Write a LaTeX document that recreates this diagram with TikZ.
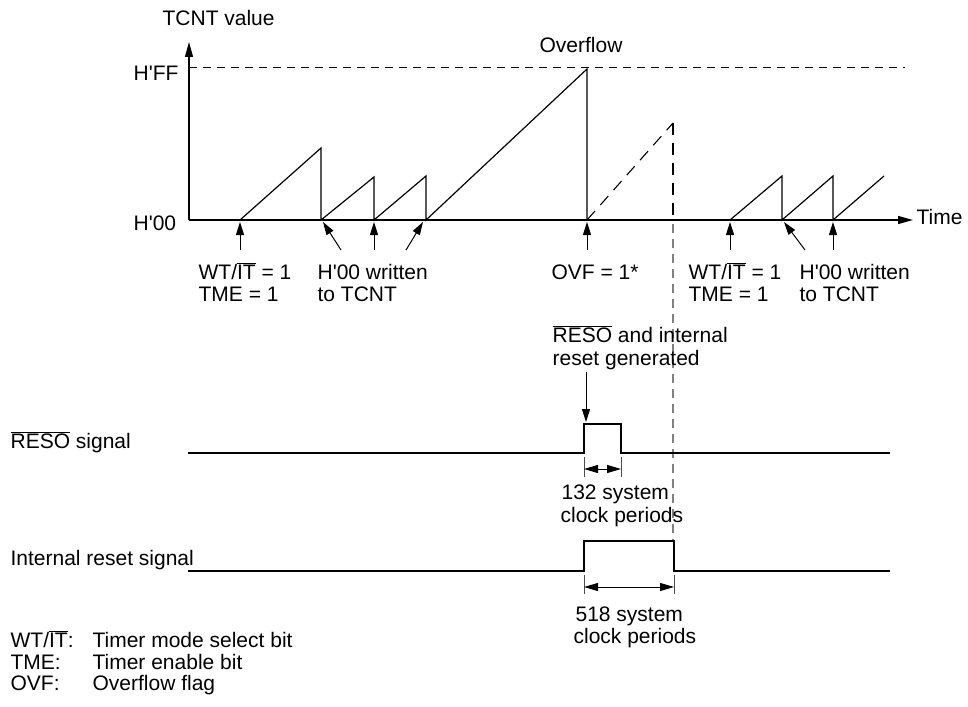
\documentclass[tikz,border=0pt]{standalone}
\usepackage{fontspec}
\setmainfont{Liberation Sans}
\usetikzlibrary{arrows.meta}
\newcommand{\ovl}[1]{\ensuremath{\overline{\mbox{#1}}}}
\newcommand{\ap}{\textquotesingle}
\begin{document}
\begin{tikzpicture}[x=1pt,y=-1pt,
  font=\fontsize{21}{24}\selectfont,
  line width=1.2pt,
  txt/.style={inner sep=0pt,anchor=base west},
  evarrow/.style={line width=1pt,-{Triangle[length=13pt,width=8pt]}},
  axarrow/.style={-{Triangle[length=15pt,width=8pt]}},
  dimarrow/.style={line width=1pt,{Triangle[length=14pt,width=8pt]}-{Triangle[length=14pt,width=8pt]}},
  hdash/.style={dash pattern=on 8pt off 6pt,line width=1pt},
  ddash/.style={dash pattern=on 12pt off 8pt,line width=1.1pt},
  gdash/.style={dash pattern=on 9pt off 6pt,line width=1.2pt,gray}]
\useasboundingbox (0,0) rectangle (968,706);
% axes
\coordinate (O) at (189,220);
\coordinate (ytop) at (189,42);
\coordinate (tend) at (913,220);
\draw[axarrow] (O) -- (ytop);
\draw[axarrow] (O) -- (tend);
\draw[hdash] (189,68) -- (905,68);
\node[txt] (tcnt) at (162,26) {TCNT value};
\node[txt] (hff) at (133,81) {H\ap FF};
\node[txt] (h00) at (133,230) {H\ap 00};
\node[txt] (time) at (916,224) {Time};
\node[txt] (ovfl) at (539,53) {Overflow};
% sawtooth
\draw (240,220) -- (321,148) -- (321,220) -- (374,177) -- (374,220) -- (426,176) -- (426,220) -- (587,69) -- (587,220);
\draw[ddash] (587,220) -- (673,123);
\draw[ddash] (673,123) -- (673,220);
\draw[gdash] (673,224) -- (673,541);
\draw (730,220) -- (782,176) -- (782,220) -- (833,176) -- (833,220) -- (884,176);
% event arrows
\coordinate (e1) at (240,222);
\coordinate (e2) at (323,222);
\coordinate (e3) at (374,222);
\coordinate (e4) at (423,222);
\coordinate (e5) at (587,222);
\coordinate (e6) at (730,222);
\coordinate (e7) at (784,222);
\coordinate (e8) at (833,222);
\draw[evarrow] (240,250) -- (e1);
\draw[evarrow] (341,250) -- (e2);
\draw[evarrow] (374,250) -- (e3);
\draw[evarrow] (406,250) -- (e4);
\draw[evarrow] (587,250) -- (e5);
\draw[evarrow] (730,250) -- (e6);
\draw[evarrow] (805,250) -- (e7);
\draw[evarrow] (833,250) -- (e8);
% labels under the axis
\node[txt] (wt1) at (198,279) {WT/\ovl{IT} = 1};
\node[txt] (tme1) at (198,301) {TME = 1};
\node[txt] (hw1) at (317,279) {H\ap 00 written};
\node[txt] (tt1) at (317,301) {to TCNT};
\node[txt] (ovf) at (551,279) {OVF = 1*};
\node[txt] (wt2) at (688,279) {WT/\ovl{IT} = 1};
\node[txt] (tme2) at (688,301) {TME = 1};
\node[txt] (hw2) at (799,279) {H\ap 00 written};
\node[txt] (tt2) at (799,301) {to TCNT};
\node[txt] (rg1) at (552,342) {\ovl{RESO} and internal};
\node[txt] (rg2) at (552,365) {reset generated};
\coordinate (rtop) at (586,422);
\draw[evarrow] (586,372) -- (rtop);
% RESO signal
\node[txt] (rsig) at (10,448) {\ovl{RESO} signal};
\draw (188,453) -- (584,453) -- (584,424) -- (621,424) -- (621,453) -- (890,453);
\draw[line width=0.8pt,gray!60!black] (584,457) -- (584,477) (621,457) -- (621,477);
\coordinate (d1a) at (584,469);
\coordinate (d1b) at (621,469);
\draw[dimarrow] (d1a) -- (d1b);
\node[txt] (c132a) at (561,499) {132 system};
\node[txt] (c132b) at (560,522) {clock periods};
% internal reset signal
\node[txt] (isig) at (10,565) {Internal reset signal};
\draw (188,571) -- (584,571) -- (584,541) -- (674,541) -- (674,571) -- (890,571);
\draw[line width=0.8pt,gray!60!black] (584,575) -- (584,594) (674,575) -- (674,594);
\coordinate (d2a) at (584,587);
\coordinate (d2b) at (674,587);
\draw[dimarrow] (d2a) -- (d2b);
\node[txt] (c518a) at (575,621) {518 system};
\node[txt] (c518b) at (573,643) {clock periods};
% legend
\node[txt] (l1a) at (10,647) {WT/\ovl{IT}:};
\node[txt] (l1b) at (92,647) {Timer mode select bit};
\node[txt] (l2a) at (10,669) {TME:};
\node[txt] (l2b) at (92,669) {Timer enable bit};
\node[txt] (l3a) at (10,690) {OVF:};
\node[txt] (l3b) at (92,690) {Overflow flag};
\end{tikzpicture}
\end{document}
